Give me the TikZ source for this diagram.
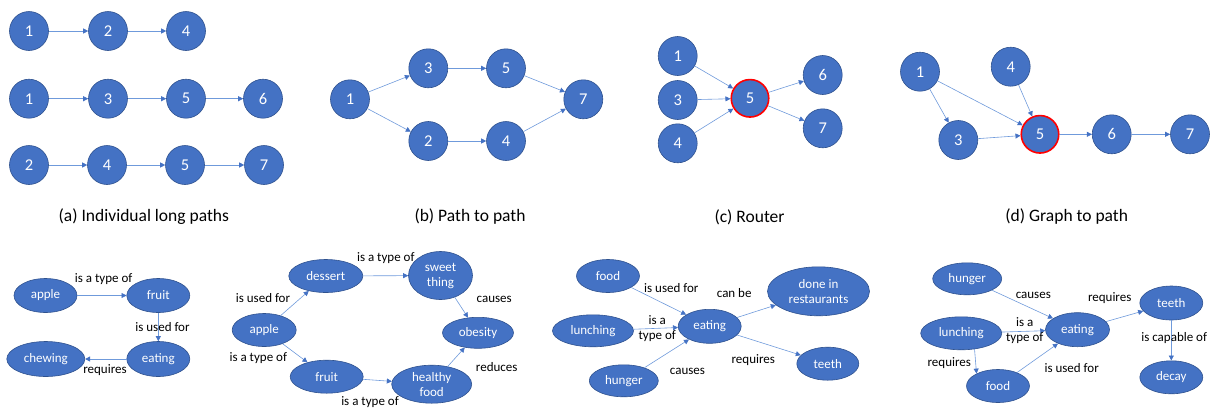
\documentclass[tikz,border=0pt]{standalone}
\usepackage{fontspec}
\setmainfont{Carlito}
\usetikzlibrary{shapes.geometric,arrows.meta}
\definecolor{nodeblue}{HTML}{4472C4}
\definecolor{nodeedge}{HTML}{2F528F}
\definecolor{linkblue}{HTML}{6F9ADB}
\begin{document}
\begin{tikzpicture}[x=1pt,y=-1pt,
 num/.style={circle,fill=nodeblue,draw=nodeedge,line width=0.6pt,minimum size=39pt,inner sep=0pt,text=white,font=\fontsize{16.5}{19}\selectfont},
 hub/.style={num,draw=red,line width=1.6pt,minimum size=37.5pt},
 ell/.style={ellipse,fill=nodeblue,draw=nodeedge,line width=0.6pt,inner sep=0pt,text=white,align=center,font=\fontsize{13}{15}\selectfont},
 lbl/.style={align=center,font=\fontsize{13}{15}\selectfont,inner sep=0pt},
 captext/.style={font=\fontsize{17.5}{21}\selectfont,inner sep=0pt},
 link/.style={draw=linkblue,line width=0.6pt,-{Triangle[length=5pt,width=5pt,color=nodeblue]}}]
\useasboundingbox (0,0) rectangle (1210,408);

% ---------- (a) Individual long paths ----------
\node[num] (a11) at (29,31) {1};
\node[num] (a12) at (108,31) {2};
\node[num] (a14) at (186,31) {4};
\node[num] (a21) at (29,98.7) {1};
\node[num] (a23) at (108,98.7) {3};
\node[num] (a25) at (186,98.7) {5};
\node[num] (a26) at (263,98.7) {6};
\node[num] (a32) at (29,165) {2};
\node[num] (a34) at (107,165) {4};
\node[num] (a35) at (185,165) {5};
\node[num] (a37) at (264,165) {7};
\draw[link] (a11) -- (a12);
\draw[link] (a12) -- (a14);
\draw[link] (a21) -- (a23);
\draw[link] (a23) -- (a25);
\draw[link] (a25) -- (a26);
\draw[link] (a32) -- (a34);
\draw[link] (a34) -- (a35);
\draw[link] (a35) -- (a37);
\node[captext] (capa) at (143.8,217) {(a) Individual long paths};

% ---------- (b) Path to path ----------
\node[num] (b1) at (350,99.3) {1};
\node[num] (b3) at (428.3,68.3) {3};
\node[num] (b5) at (506,68.3) {5};
\node[num] (b2) at (428.3,141) {2};
\node[num] (b4) at (506,141) {4};
\node[num] (b7) at (583.3,99.3) {7};
\draw[link] (b1) -- (b3);
\draw[link] (b1) -- (b2);
\draw[link] (b3) -- (b5);
\draw[link] (b2) -- (b4);
\draw[link] (b5) -- (b7);
\draw[link] (b4) -- (b7);
\node[captext] (capb) at (470,217) {(b) Path to path};

% ---------- (c) Router ----------
\node[num] (c1) at (677.7,56) {1};
\node[num] (c3) at (677.7,100) {3};
\node[num] (c4) at (677.7,143.3) {4};
\node[hub] (c5) at (750,98.3) {5};
\node[num] (c6) at (822.7,75) {6};
\node[num] (c7) at (822.7,128.3) {7};
\draw[link] (c1) -- (c5);
\draw[link] (c3) -- (c5);
\draw[link] (c4) -- (c5);
\draw[link] (c5) -- (c6);
\draw[link] (c5) -- (c7);
\node[captext] (capc) at (749.5,217) {(c) Router};

% ---------- (d) Graph to path ----------
\node[num] (d1) at (920,71.7) {1};
\node[num] (d4) at (1010.7,66.7) {4};
\node[num] (d3) at (958.3,140) {3};
\node[hub] (d5) at (1040,134.3) {5};
\node[num] (d6) at (1111.7,134.3) {6};
\node[num] (d7) at (1190,134.3) {7};
\draw[link] (d1) -- (d3);
\draw[link] (d1) -- (d5);
\draw[link] (d4) -- (d5);
\draw[link] (d3) -- (d5);
\draw[link] (d5) -- (d6);
\draw[link] (d6) -- (d7);
\node[captext] (capd) at (1066.7,217) {(d) Graph to path};

% ---------- bottom 1 ----------
\node[ell,minimum width=63pt,minimum height=34pt] (p1apple) at (45.5,295.5) {apple};
\node[ell,minimum width=63pt,minimum height=34pt] (p1fruit) at (158.3,295.5) {fruit};
\node[ell,minimum width=63pt,minimum height=35pt] (p1eat) at (158.3,359) {eating};
\node[ell,minimum width=78pt,minimum height=35pt] (p1chew) at (45.8,359) {chewing};
\draw[link] (p1apple) -- (p1fruit);
\draw[link] (p1fruit) -- (p1eat);
\draw[link] (p1eat) -- (p1chew);
\node[lbl] (p1l1) at (103.7,279.3) {is a type of};
\node[lbl] (p1l2) at (162.5,326.7) {is used for};
\node[lbl] (p1l3) at (105,370) {requires};

% ---------- bottom 2 ----------
\node[ell,minimum width=74pt,minimum height=33pt] (p2dess) at (325.8,276) {dessert};
\node[ell,minimum width=64pt,minimum height=48pt] (p2sweet) at (440.5,275.5) {sweet\\thing};
\node[ell,minimum width=71pt,minimum height=31pt] (p2obes) at (478,332.8) {obesity};
\node[ell,minimum width=64pt,minimum height=33pt] (p2apple) at (264.2,330) {apple};
\node[ell,minimum width=73pt,minimum height=33pt] (p2fruit) at (326.7,376.7) {fruit};
\node[ell,minimum width=80pt,minimum height=38pt] (p2health) at (431.7,384.2) {healthy\\food};
\draw[link] (p2apple) -- (p2dess);
\draw[link] (p2apple) -- (p2fruit);
\draw[link] (p2dess) -- (p2sweet);
\draw[link] (p2fruit) -- (p2health);
\draw[link] (p2sweet) -- (p2obes);
\draw[link] (p2health) -- (p2obes);
\node[lbl] (p2l1) at (385.8,257.7) {is a type of};
\node[lbl] (p2l2) at (263,298.3) {is used for};
\node[lbl] (p2l3) at (494.2,299.3) {causes};
\node[lbl] (p2l4) at (258.3,357.7) {is a type of};
\node[lbl] (p2l5) at (496.7,366.7) {reduces};
\node[lbl] (p2l6) at (370,401.7) {is a type of};

% ---------- bottom 3 ----------
\node[ell,minimum width=63pt,minimum height=33pt] (p3food) at (608,276) {food};
\node[ell,minimum width=81pt,minimum height=32pt] (p3lunch) at (593,330.8) {lunching};
\node[ell,minimum width=69pt,minimum height=32pt] (p3hung) at (623.8,380.8) {hunger};
\node[ell,minimum width=63pt,minimum height=34pt] (p3eat) at (709.7,326.3) {eating};
\node[ell,minimum width=102pt,minimum height=49pt] (p3done) at (818.5,291.3) {done in\\restaurants};
\node[ell,minimum width=62pt,minimum height=33pt] (p3teeth) at (827.8,363.7) {teeth};
\draw[link] (p3food) -- (p3eat);
\draw[link] (p3lunch) -- (p3eat);
\draw[link] (p3hung) -- (p3eat);
\draw[link] (p3eat) -- (p3done);
\draw[link] (p3eat) -- (p3teeth);
\node[lbl] (p3l1) at (671.3,287.7) {is used for};
\node[lbl] (p3l2) at (734.2,292.7) {can be};
\node[lbl] (p3l3) at (657.2,328.5) {is a\\type of};
\node[lbl] (p3l4) at (753.3,360) {requires};
\node[lbl] (p3l5) at (687.5,371) {causes};

% ---------- bottom 4 ----------
\node[ell,minimum width=69pt,minimum height=32pt] (p4hung) at (967.2,278.8) {hunger};
\node[ell,minimum width=81pt,minimum height=33pt] (p4lunch) at (961.2,333.3) {lunching};
\node[ell,minimum width=63pt,minimum height=33pt] (p4food) at (998,386) {food};
\node[ell,minimum width=64pt,minimum height=34pt] (p4eat) at (1077.5,329.7) {eating};
\node[ell,minimum width=63pt,minimum height=34pt] (p4teeth) at (1171.3,303) {teeth};
\node[ell,minimum width=63pt,minimum height=33pt] (p4decay) at (1171.3,377.3) {decay};
\draw[link] (p4hung) -- (p4eat);
\draw[link] (p4lunch) -- (p4eat);
\draw[link] (p4lunch.310) -- (p4food.150);
\draw[link] (p4food) -- (p4eat);
\draw[link] (p4eat) -- (p4teeth);
\draw[link] (p4teeth) -- (p4decay);
\node[lbl] (p4l1) at (1033.3,295) {causes};
\node[lbl] (p4l2) at (1109.7,298.3) {requires};
\node[lbl] (p4l3) at (1024.7,330.8) {is a\\type of};
\node[lbl] (p4l4) at (949.3,362.7) {requires};
\node[lbl] (p4l5) at (1071.7,368.3) {is used for};
\node[lbl] (p4l6) at (1174.2,338.3) {is capable of};
\end{tikzpicture}
\end{document}
